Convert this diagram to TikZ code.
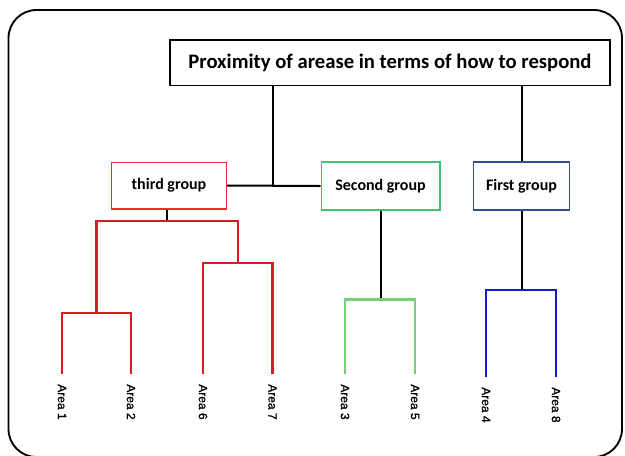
\documentclass[tikz,border=0pt]{standalone}
\usepackage{fontspec}
\setmainfont{Carlito}
\newfontfamily\areafont[FakeBold=1.2]{Liberation Sans}
\usetikzlibrary{positioning}

\definecolor{thirdred}{RGB}{250,40,40}
\definecolor{redline}{RGB}{210,30,35}
\definecolor{secondgreen}{RGB}{60,195,115}
\definecolor{greenline}{RGB}{120,205,120}
\definecolor{firstblue}{RGB}{55,80,140}
\definecolor{blueline}{RGB}{25,25,210}

\begin{document}
\begin{tikzpicture}[x=0.75pt, y=-0.75pt,
  groupbox/.style={draw, fill=white, line width=1pt, minimum height=36pt, inner sep=0pt, font=\bfseries\fontsize{12}{14}\selectfont},
  area/.style={rotate=-90, anchor=west, inner xsep=7.5pt, inner ysep=0pt, font=\areafont\fontsize{9}{11}\selectfont},
  link/.style={line width=1.5pt},
  tree/.style={line width=2pt}]
  \useasboundingbox (0,0) rectangle (625,455);
  % Frame
  \draw[line width=1.4pt, rounded corners=21pt] (8.5,10) rectangle (622,457);

  % Nodes
  \node[groupbox, minimum width=330pt, minimum height=34pt, font=\bfseries\fontsize{15.5}{18}\selectfont] (title) at (390,62.5) {Proximity of arease in terms of how to respond};
  \node[groupbox, draw=thirdred, minimum width=86pt, minimum height=35pt] (third) at (169,185.5) {third group};
  \node[groupbox, draw=secondgreen, minimum width=89pt] (second) at (380.5,186) {Second group};
  \node[groupbox, draw=firstblue, minimum width=72pt] (first) at (521.5,186) {First group};

  % Leaves
  \node[area] (a1) at (62,374) {Area 1};
  \node[area] (a2) at (131,374) {Area 2};
  \node[area] (a6) at (203,374) {Area 6};
  \node[area] (a7) at (272.5,374) {Area 7};
  \node[area] (a3) at (345,374) {Area 3};
  \node[area] (a5) at (415,374) {Area 5};
  \node[area] (a4) at (486,377) {Area 4};
  \node[area] (a8) at (556,377) {Area 8};

  % Junctions
  \coordinate (j12) at (96.5,313);
  \coordinate (j67) at (238,263);
  \coordinate (j3) at (167,221);
  \coordinate (j35) at (380.5,299.5);
  \coordinate (j48) at (521.5,290);
  \coordinate (mid) at (273,186);

  % Title links
  \draw[link] (third.east) -- (second.west);
  \draw[link] (title.south -| mid) -- (mid);
  \draw[link] (title.south -| first.north) -- (first.north);
  \draw[link] (third.south -| j3) -- (j3);
  \draw[link] (second.south) -- (j35);
  \draw[link] (first.south) -- (j48);

  % Dendrograms
  \draw[tree, redline] (a1.west) |- (j12) -| (a2.west);
  \draw[tree, redline] (a6.west) |- (j67) -| (a7.west);
  \draw[tree, redline] (j12) |- (j3) -| (j67);
  \draw[tree, greenline] (a3.west) |- (j35) -| (a5.west);
  \draw[tree, blueline] (a4.west) |- (j48) -| (a8.west);
\end{tikzpicture}
\end{document}
